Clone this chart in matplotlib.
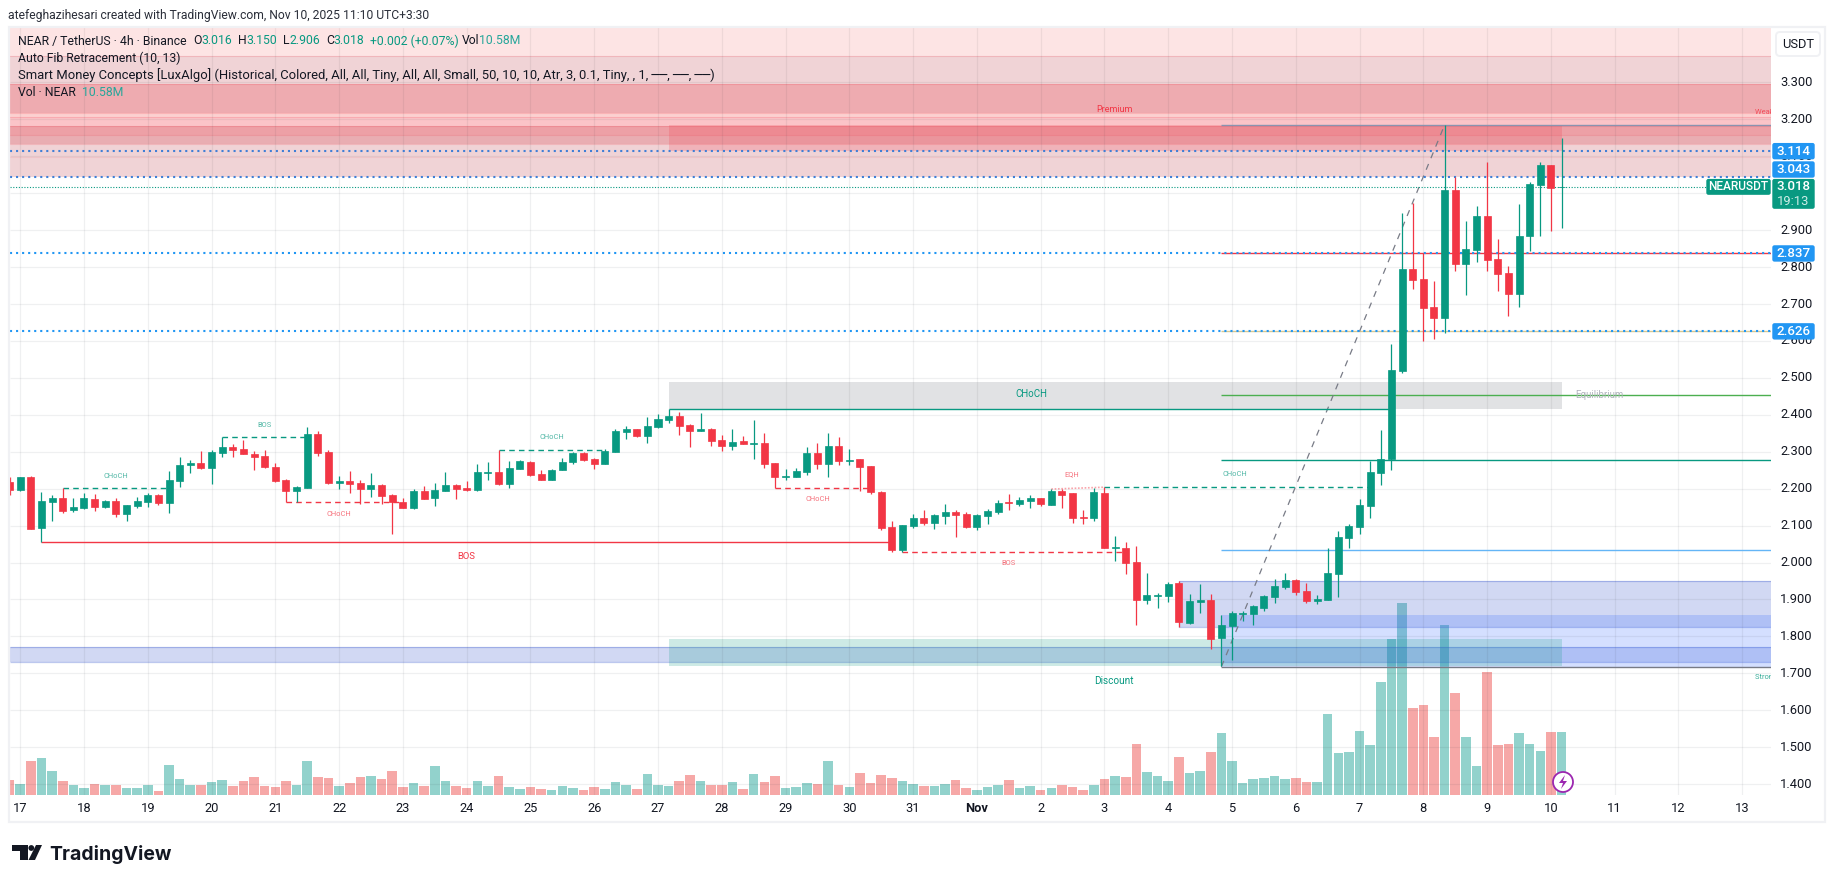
import numpy as np
import matplotlib
matplotlib.use("Agg")
import matplotlib.pyplot as plt
import matplotlib.patches as mpatches

# candles, 4h, first one is the cut off bar left of the "17" tick
opens = [2.218, 2.196, 2.232, 2.093, 2.164, 2.175, 2.142, 2.148, 2.172, 2.150, 2.167, 2.131, 2.153, 2.164, 2.183,
         2.161, 2.221, 2.264, 2.269, 2.256, 2.297, 2.313, 2.307, 2.294, 2.288, 2.259, 2.223, 2.194, 2.202, 2.348,
         2.299, 2.215, 2.221, 2.215, 2.199, 2.210, 2.183, 2.164, 2.148, 2.194, 2.175, 2.194, 2.210, 2.202, 2.196,
         2.242, 2.245, 2.213, 2.253, 2.272, 2.240, 2.223, 2.250, 2.272, 2.297, 2.280, 2.267, 2.299, 2.353, 2.361,
         2.343, 2.367, 2.386, 2.397, 2.372, 2.356, 2.361, 2.332, 2.315, 2.329, 2.321, 2.324, 2.269, 2.232, 2.232,
         2.245, 2.297, 2.267, 2.315, 2.275, 2.280, 2.261, 2.191, 2.096, 2.034, 2.099, 2.121, 2.107, 2.126, 2.137,
         2.131, 2.096, 2.126, 2.137, 2.164, 2.158, 2.167, 2.175, 2.156, 2.194, 2.188, 2.123, 2.121, 2.188, 2.039,
         2.039, 2.001, 1.899, 1.909, 1.909, 1.945, 1.836, 1.893, 1.899, 1.796, 1.828, 1.861, 1.861, 1.877, 1.907,
         1.934, 1.953, 1.923, 1.896, 1.899, 1.969, 2.067, 2.096, 2.153, 2.243, 2.280, 2.519, 2.795, 2.768, 2.692,
         2.662, 3.009, 2.808, 2.846, 2.938, 2.822, 2.784, 2.727, 2.884, 3.022, 3.077, 3.016]
highs = [2.232, 2.233, 2.234, 2.191, 2.183, 2.201, 2.175, 2.188, 2.185, 2.169, 2.175, 2.156, 2.177, 2.188, 2.185,
         2.248, 2.286, 2.278, 2.302, 2.305, 2.339, 2.321, 2.332, 2.302, 2.305, 2.269, 2.226, 2.207, 2.367, 2.356,
         2.305, 2.234, 2.248, 2.223, 2.242, 2.213, 2.185, 2.175, 2.199, 2.207, 2.215, 2.245, 2.213, 2.221, 2.267,
         2.272, 2.305, 2.275, 2.278, 2.275, 2.250, 2.253, 2.283, 2.299, 2.299, 2.283, 2.307, 2.361, 2.370, 2.361,
         2.394, 2.402, 2.417, 2.408, 2.375, 2.405, 2.364, 2.345, 2.361, 2.343, 2.386, 2.351, 2.269, 2.253, 2.256,
         2.313, 2.324, 2.351, 2.340, 2.307, 2.280, 2.261, 2.194, 2.112, 2.102, 2.131, 2.142, 2.131, 2.158, 2.142,
         2.137, 2.131, 2.145, 2.169, 2.185, 2.177, 2.183, 2.175, 2.199, 2.199, 2.188, 2.142, 2.202, 2.204, 2.072,
         2.056, 2.045, 1.972, 1.917, 1.947, 1.950, 1.915, 1.942, 1.915, 1.858, 1.869, 1.869, 1.885, 1.912, 1.956,
         1.972, 1.956, 1.945, 1.912, 2.039, 2.085, 2.104, 2.172, 2.275, 2.359, 2.592, 2.947, 2.974, 2.838, 2.762,
         3.185, 3.044, 2.925, 2.965, 3.085, 2.876, 2.803, 2.971, 3.031, 3.085, 3.077, 3.150]
lows = [2.183, 2.194, 2.091, 2.057, 2.112, 2.134, 2.137, 2.145, 2.139, 2.148, 2.123, 2.112, 2.148, 2.150, 2.156,
        2.134, 2.204, 2.242, 2.253, 2.213, 2.286, 2.286, 2.294, 2.250, 2.256, 2.218, 2.163, 2.163, 2.202, 2.288,
        2.213, 2.199, 2.188, 2.158, 2.177, 2.158, 2.077, 2.148, 2.145, 2.172, 2.153, 2.194, 2.172, 2.194, 2.194,
        2.223, 2.210, 2.202, 2.253, 2.234, 2.223, 2.223, 2.250, 2.267, 2.275, 2.253, 2.267, 2.299, 2.334, 2.340,
        2.324, 2.364, 2.378, 2.345, 2.313, 2.356, 2.315, 2.302, 2.305, 2.321, 2.280, 2.256, 2.201, 2.223, 2.232,
        2.237, 2.253, 2.232, 2.264, 2.264, 2.194, 2.185, 2.088, 2.028, 2.028, 2.093, 2.102, 2.091, 2.104, 2.069,
        2.093, 2.088, 2.104, 2.131, 2.142, 2.153, 2.148, 2.153, 2.156, 2.148, 2.107, 2.104, 2.112, 2.039, 2.004,
        1.969, 1.831, 1.888, 1.877, 1.893, 1.825, 1.834, 1.863, 1.766, 1.720, 1.736, 1.842, 1.831, 1.869, 1.891,
        1.928, 1.912, 1.891, 1.888, 1.899, 1.907, 2.039, 2.077, 2.121, 2.210, 2.251, 2.513, 2.741, 2.600, 2.605,
        2.622, 2.789, 2.724, 2.814, 2.789, 2.735, 2.668, 2.692, 2.844, 2.884, 2.898, 2.906]
closes = [2.196, 2.232, 2.091, 2.167, 2.175, 2.139, 2.150, 2.175, 2.150, 2.167, 2.131, 2.156, 2.167, 2.183, 2.161,
          2.223, 2.264, 2.269, 2.256, 2.299, 2.313, 2.305, 2.294, 2.286, 2.259, 2.221, 2.194, 2.204, 2.348, 2.297,
          2.215, 2.221, 2.213, 2.199, 2.210, 2.180, 2.163, 2.148, 2.194, 2.172, 2.196, 2.210, 2.199, 2.196, 2.245,
          2.245, 2.213, 2.256, 2.275, 2.237, 2.223, 2.250, 2.272, 2.297, 2.278, 2.267, 2.302, 2.356, 2.361, 2.343,
          2.370, 2.389, 2.397, 2.370, 2.356, 2.361, 2.329, 2.315, 2.326, 2.321, 2.324, 2.267, 2.232, 2.234, 2.248,
          2.297, 2.267, 2.315, 2.275, 2.278, 2.259, 2.191, 2.093, 2.034, 2.102, 2.121, 2.107, 2.129, 2.137, 2.129,
          2.096, 2.129, 2.139, 2.161, 2.161, 2.169, 2.175, 2.158, 2.194, 2.183, 2.121, 2.121, 2.191, 2.039, 2.042,
          1.999, 1.899, 1.912, 1.912, 1.942, 1.839, 1.896, 1.899, 1.793, 1.831, 1.863, 1.863, 1.882, 1.909, 1.937,
          1.953, 1.920, 1.896, 1.901, 1.972, 2.069, 2.099, 2.156, 2.245, 2.280, 2.521, 2.795, 2.765, 2.689, 2.662,
          3.009, 2.808, 2.849, 2.938, 2.819, 2.781, 2.727, 2.884, 3.025, 3.077, 3.014, 3.018]
# volume in millions
volumes = [2.52, 1.85, 5.71, 6.22, 4.03, 2.35, 1.68, 1.18, 1.85, 1.68, 1.68, 1.18, 1.18, 1.68, 0.67,
           5.04, 2.69, 1.68, 1.68, 2.18, 2.52, 1.51, 2.35, 3.02, 1.51, 1.34, 2.35, 1.68, 5.71, 3.02,
           2.86, 1.51, 2.02, 3.02, 3.19, 2.69, 4.03, 1.34, 2.02, 1.51, 4.87, 2.35, 1.51, 1.18, 2.35,
           1.51, 3.19, 1.34, 1.01, 1.34, 1.01, 0.84, 1.51, 1.18, 0.84, 1.34, 1.01, 2.18, 1.68, 1.01,
           3.53, 1.68, 1.51, 2.35, 3.36, 2.35, 1.68, 1.68, 2.18, 1.01, 3.53, 2.18, 3.19, 1.18, 1.34,
           2.02, 1.85, 5.71, 1.68, 1.34, 3.70, 2.02, 3.36, 2.86, 2.35, 1.85, 1.51, 1.51, 1.85, 2.52,
           1.18, 0.84, 1.34, 1.68, 2.52, 1.18, 1.51, 0.84, 1.18, 1.68, 1.34, 0.84, 1.68, 2.69, 3.19,
           3.02, 8.57, 3.86, 3.19, 2.35, 6.38, 3.70, 4.03, 7.22, 10.42, 5.71, 2.02, 2.69, 2.86, 3.19,
           2.69, 2.86, 2.18, 2.18, 13.61, 7.06, 7.22, 10.75, 8.40, 18.98, 26.21, 32.26, 14.62, 15.12, 9.74,
           28.56, 17.14, 9.74, 4.87, 20.66, 8.40, 8.57, 10.42, 8.57, 7.39, 10.58, 10.58]

day_labels = ["17", "18", "19", "20", "21", "22", "23", "24", "25", "26", "27", "28", "29", "30", "31",
              "Nov", "2", "3", "4", "5", "6", "7", "8", "9", "10", "11", "12", "13"]
price_ticks = [1.4, 1.5, 1.6, 1.7, 1.8, 1.9, 2.0, 2.1, 2.2, 2.3, 2.4, 2.5, 2.6, 2.7, 2.8, 2.9, 3.0, 3.1, 3.2, 3.3]

# premium stack at the top, edges of the bands from top to bottom
premium_edges = [3.449, 3.372, 3.296, 3.218, 3.206, 3.182, 3.158, 3.134, 3.043]
# fib levels
fib_levels = [3.184, 2.838, 2.626, 2.453, 2.279, 2.033, 1.718]
# dotted user levels with their axis labels
user_levels = [3.114, 3.043, 2.837, 2.626]
last_price = 3.018

UP = "#089981"
DOWN = "#f23645"
TEXT = "#131722"
BLUE = "#2196f3"
GRID = "#2a2e39"
FRAME = "#f0f1f4"
FONT = "Roboto"

premium_colors = ["#fde4e4", "#f0d3d6", "#eeabb0", "#fcd0d0", "#fbc4c8", "#eda0a6", "#e9adb2", "#f0d3d6"]
fib_colors = ["#8a93b0", "#f23645", "#d8c890", "#4caf50", "#089981", "#64b5f6", "#787b86"]

# pane geometry in pixels of the 1835x883 picture
W, H = 1835, 883
PANE_L, PANE_R, PANE_T, PANE_B = 10, 1771, 27, 795
BAR_PX = 10.63
X0_PX = 20.2
Y_3200 = 119.4
PX_PER_UNIT = 369.3
VOL_PX_PER_M = 5.955

bar_index = np.arange(-1, len(opens) - 1)
last_bar = bar_index[-1]


def py(price):
    return Y_3200 + (3.2 - price) * PX_PER_UNIT


def make_axes(fig):
    rect = [PANE_L / W, 1 - PANE_B / H, (PANE_R - PANE_L) / W, (PANE_B - PANE_T) / H]
    ax_vol = fig.add_axes(rect, zorder=1)
    ax = fig.add_axes(rect, zorder=2)
    xlim = ((PANE_L - X0_PX) / BAR_PX, (PANE_R - X0_PX) / BAR_PX)
    ax.set_xlim(*xlim)
    ax_vol.set_xlim(*xlim)
    ax.set_ylim(3.2 - (PANE_B - Y_3200) / PX_PER_UNIT, 3.2 + (Y_3200 - PANE_T) / PX_PER_UNIT)
    ax_vol.set_ylim(0, (PANE_B - PANE_T) / VOL_PX_PER_M)
    ax.patch.set_visible(False)
    for a in (ax, ax_vol):
        a.axis("off")
    return ax, ax_vol
#END make_axes


def plot_zones(ax):
    # premium stack
    for i in range(len(premium_colors)):
        ax.axhspan(premium_edges[i + 1], premium_edges[i], color=premium_colors[i], lw=0, zorder=0.5)
    for edge in premium_edges[1:-1]:
        ax.axhline(edge, color=DOWN, alpha=0.18, lw=0.8, zorder=0.6)
    ax.axhline(3.099, color=DOWN, alpha=0.08, lw=0.8, zorder=0.6)

    # order blocks
    ax.fill_between([61, last_bar], 3.115, 3.185, color=DOWN, alpha=0.2, lw=0, zorder=0.7)
    ax.fill_between([61, last_bar], 2.417, 2.488, color="#787b86", alpha=0.22, lw=0, zorder=0.7)

    # demand blocks, they run out of the pane on the right
    right = ax.get_xlim()[1]
    left = ax.get_xlim()[0]
    block = "#3f5fcf"
    ax.fill_between([left, right], 1.7317, 1.7705, color=block, alpha=0.24, lw=0, zorder=0.8)
    ax.hlines([1.7317, 1.7705], left, right, color=block, alpha=0.35, lw=0.9, zorder=0.8)
    ax.fill_between([109, right], 1.825, 1.949, color=block, alpha=0.24, lw=0, zorder=0.8)
    ax.hlines([1.825, 1.949], 109, right, color=block, alpha=0.35, lw=0.9, zorder=0.8)
    ax.vlines([109], 1.825, 1.949, color=block, alpha=0.35, lw=0.9, zorder=0.8)
    ax.fill_between([113, right], 1.718, 1.857, color="#2962ff", alpha=0.2, lw=0, zorder=0.8)
    ax.fill_between([61, last_bar], 1.72, 1.793, color=UP, alpha=0.2, lw=0, zorder=0.9)
#END plot_zones


def plot_grid(ax):
    ax.hlines(price_ticks, *ax.get_xlim(), color=GRID, alpha=0.07, lw=0.9, zorder=1)
    day_x = np.arange(len(day_labels)) * 6
    ax.vlines(day_x, *ax.get_ylim(), color=GRID, alpha=0.07, lw=0.9, zorder=1)
#END plot_grid


def plot_volume(ax_vol):
    colors = ["#26a69a" if c >= o else "#ef5350" for o, c in zip(opens, closes)]
    ax_vol.bar(bar_index, volumes, width=0.9, color=colors, alpha=0.5, lw=0)
#END plot_volume


def plot_levels(ax):
    right = ax.get_xlim()[1]
    left = ax.get_xlim()[0]
    # fib levels start at the swing low
    for level, color in zip(fib_levels, fib_colors):
        ax.hlines(level, 113, right, color=color, lw=1.0, zorder=1.6)
    ax.plot([113, 134], [1.718, 3.185], color="#787b86", lw=0.9, ls=(0, (5, 5)), zorder=1.7)

    # dotted levels of the user
    for i, level in enumerate(user_levels):
        color = "#3f7fd6" if i < 2 else BLUE
        ax.hlines(level, left, right, color=color, lw=1.5, ls=(0, (1, 1.9)), zorder=1.8)
    ax.hlines(last_price, left, right, color=UP, lw=0.8, ls=(0, (1, 1.5)), zorder=1.8)
#END plot_levels


def plot_structure(ax):
    # market structure, (first bar, last bar, price, color, style)
    lines = [
        (4, 14, 2.201, UP, "dashed"), (19, 27, 2.339, UP, "dashed"), (45, 55, 2.304, UP, "dashed"),
        (102, 127, 2.204, UP, "dashed"), (61, 129, 2.417, UP, "solid"),
        (25, 36, 2.163, DOWN, "dashed"), (71, 80, 2.201, DOWN, "dashed"), (83, 104, 2.028, DOWN, "dashed"),
        (2, 82, 2.057, DOWN, "solid"),
    ]
    for x0, x1, price, color, style in lines:
        ls = (0, (4, 3)) if style == "dashed" else "-"
        ax.hlines(price, x0, x1, color=color, lw=1.0, ls=ls, zorder=1.9)
    ax.plot([97, 102], [2.199, 2.204], color=DOWN, alpha=0.45, lw=1.2, ls=(0, (1, 1)), zorder=1.9)

    # tiny labels, (bar, price, text, color)
    labels = [
        (9, 2.233, "CHoCH", UP), (23, 2.370, "BOS", UP), (50, 2.339, "CHoCH", UP), (114.3, 2.239, "CHoCH", UP),
        (30, 2.130, "CHoCH", DOWN), (75, 2.171, "CHoCH", DOWN), (93, 1.998, "BOS", DOWN), (98.9, 2.239, "EQH", DOWN),
    ]
    for x, price, text, color in labels:
        ax.text(x, price, text, color=color, alpha=0.7, fontsize=5.4, ha="center", va="center",
                family=FONT, zorder=5)
    ax.text(42, 2.017, "BOS", color=DOWN, fontsize=6.8, ha="center", va="center", family=FONT, zorder=5)
    ax.text(95.1, 2.456, "CHoCH", color=UP, fontsize=7.0, ha="center", va="center", family=FONT, zorder=5)
    ax.text(102.9, 3.228, "Premium", color=DOWN, fontsize=6.5, ha="center", va="center", family=FONT, zorder=5)
    ax.text(102.9, 1.679, "Discount", color=UP, fontsize=7.2, ha="center", va="center", family=FONT, zorder=5)
    ax.text(146.3, 2.453, "Equilibrium", color="#b2b5be", fontsize=7.0, ha="left", va="center", family=FONT, zorder=5)
    ax.text(163.2, 3.218, "Weak High", color=DOWN, alpha=0.8, fontsize=5.4, ha="left", va="center",
            family=FONT, clip_on=True, zorder=5)
    ax.text(163.2, 1.689, "Strong Low", color=UP, alpha=0.8, fontsize=5.4, ha="left", va="center",
            family=FONT, clip_on=True, zorder=5)
#END plot_structure


def plot_candles(ax):
    colors = [UP if c >= o else DOWN for o, c in zip(opens, closes)]
    ax.vlines(bar_index, lows, highs, colors=colors, lw=0.9, zorder=3)
    bottoms = np.minimum(opens, closes)
    heights = np.abs(np.array(closes) - np.array(opens))
    ax.bar(bar_index, heights, width=0.66, bottom=bottoms, color=colors, edgecolor=colors, lw=0.5, zorder=3.1)
#END plot_candles


def add_label(ax_fig, y0, y1, x0, x1, color):
    ax_fig.add_patch(mpatches.FancyBboxPatch((x0 + 1, y0 + 1), x1 - x0 - 2, y1 - y0 - 2,
                                             boxstyle="round,pad=0,rounding_size=1.5", fc=color, ec=color, lw=1,
                                             zorder=3))


def plot_chrome(fig):
    # everything around the pane, drawn in picture pixels
    ax_fig = fig.add_axes([0, 0, 1, 1], zorder=3)
    ax_fig.set_xlim(0, W)
    ax_fig.set_ylim(H, 0)
    ax_fig.axis("off")
    ax_fig.patch.set_visible(False)

    def txt(x, y, s, color=TEXT, size=9.3, ha="left", weight="normal", family=FONT, z=5):
        return ax_fig.text(x, y, s, color=color, fontsize=size, ha=ha, va="center", weight=weight, family=family,
                           zorder=z)

    # frame
    ax_fig.add_patch(mpatches.Rectangle((9, 27), 1825 - 9, 822 - 27, fc="none", ec=FRAME, lw=1.6, zorder=1))
    ax_fig.add_patch(mpatches.FancyBboxPatch((1776, 32), 44, 24, boxstyle="round,pad=0,rounding_size=4",
                                             fc="white", ec=FRAME, lw=1.4, zorder=2))
    txt(1798, 44, "USDT", size=9.3, ha="center")

    txt(8, 15, "atefeghazihesari created with TradingView.com, Nov 10, 2025 11:10 UTC+3:30", size=8.75, color="#2a2e39")

    # legend
    txt(18, 41, "NEAR / TetherUS · 4h · Binance", size=8.8)
    for x, s in [(193, "O"), (238, "H"), (283, "L"), (326, "C"), (462, "Vol")]:
        txt(x, 41, s, size=8.8)
    for x, s in [(201, "3.016"), (246, "3.150"), (289, "2.906"), (333, "3.018"), (370, "+0.002 (+0.07%)")]:
        txt(x, 41, s, color=UP, size=8.8)
    txt(479, 41, "10.58M", color="#26a69a", size=8.8)
    txt(18, 58, "Auto Fib Retracement (10, 13)", size=8.8)
    txt(18, 75, "Smart Money Concepts [LuxAlgo] (Historical, Colored, All, All, Tiny, All, All, Small, 50, 10, 10, "
                "Atr, 3, 0.1, Tiny, , 1, ──, ──, ──)", size=9.4, family=[FONT, "DejaVu Sans"])
    txt(18, 93, "Vol · NEAR", size=8.8)
    txt(82, 93, "10.58M", color="#26a69a", size=8.8)

    # price axis, the labels below cover some of it, as they do in the app
    for p in price_ticks:
        txt(1780, py(p), f"{p:.3f}", size=9.3, z=2)

    # day axis
    for i, s in enumerate(day_labels):
        txt(X0_PX + i * 6 * BAR_PX, 808.5, s, ha="center", size=9.3, weight="bold" if s == "Nov" else "normal")

    # user price labels, 3.043 gets pushed up by the last price label
    for level in user_levels:
        y = py(level)
        if level == 3.043:
            y = 169.5
        add_label(ax_fig, y - 8.5, y + 8.5, 1772, 1815, BLUE)
        txt(1793.5, y, f"{level:.3f}", color="white", ha="center", size=9.6, weight="medium")

    # last price label with countdown
    y = py(last_price)
    add_label(ax_fig, y - 8, y + 22.5, 1772, 1815, UP)
    add_label(ax_fig, y - 8, y + 8.5, 1706, 1771, UP)
    txt(1738.5, y, "NEARUSDT", color="white", ha="center", size=8.6, weight="medium")
    txt(1793.5, y, f"{last_price:.3f}", color="white", ha="center", size=9.6, weight="medium")
    txt(1793.5, y + 14.5, "19:13", color="#cfeee8", ha="center", size=9.3)

    # lightning badge on the last bar
    ax_fig.add_patch(mpatches.Circle((1563, 782), 10, fc="white", ec="#9c27b0", lw=1.3, zorder=4))
    ax_fig.add_patch(mpatches.Polygon([(1565, 775), (1559, 783), (1563, 783), (1561, 789), (1567, 781), (1563, 781)],
                                      closed=True, fc="#9c27b0", ec="none", zorder=4.1))

    # logo, T, dot and slant
    dark = "#131722"
    ax_fig.add_patch(mpatches.Polygon([(12, 845), (28, 845), (28, 860), (20, 860), (20, 851), (12, 851)],
                                      closed=True, fc=dark, ec="none"))
    ax_fig.add_patch(mpatches.Circle((31.3, 848), 2.9, fc=dark, ec="none"))
    ax_fig.add_patch(mpatches.Polygon([(36, 845), (42, 845), (35, 860), (28.5, 860)], closed=True, fc=dark, ec="none"))
    txt(49, 854, "TradingView", color=dark, size=14.0, weight="bold", family="Inter")
#END plot_chrome


def plot_app():
    fig = plt.figure(figsize=(W / 100, H / 100), dpi=100, facecolor="white")
    ax, ax_vol = make_axes(fig)
    plot_zones(ax)
    plot_grid(ax)
    plot_volume(ax_vol)
    plot_levels(ax)
    plot_structure(ax)
    plot_candles(ax)
    plot_chrome(fig)
    fig.savefig("out.png", dpi=100)
#END plot_app


plot_app()
